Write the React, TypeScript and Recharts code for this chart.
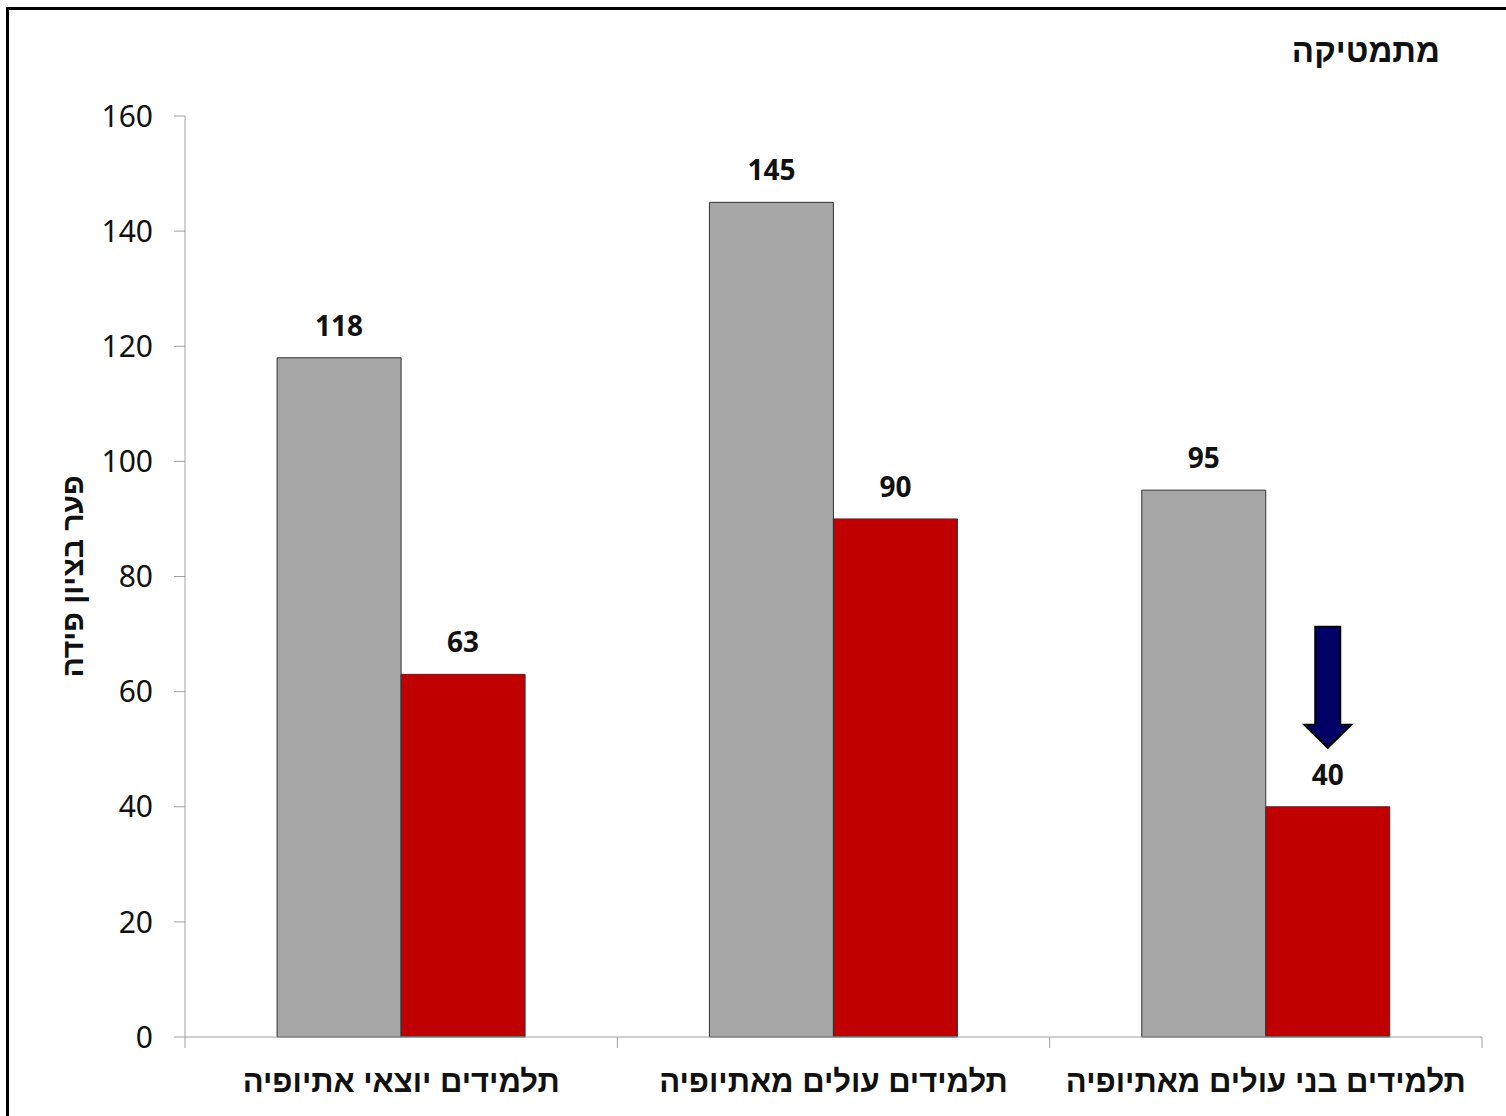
import React from "react";
import { BarChart, Bar, XAxis, YAxis, LabelList } from "recharts";

const categories = ["תלמידים יוצאי אתיופיה", "תלמידים עולים מאתיופיה", "תלמידים בני עולים מאתיופיה"];
const grayValues = [118, 145, 95];
const redValues = [63, 90, 40];
const arrowOn = [false, false, true];
const yTicks = [0, 20, 40, 60, 80, 100, 120, 140, 160];

const title = "מתמטיקה";
const yTitle = "פער בציון פידה";

const data = categories.map((name, i) => ({
  name,
  gray: grayValues[i],
  red: redValues[i],
}));

const W = 1506;
const H = 1116;
const margin = { top: 116, right: 24, bottom: 0, left: 0 };
const yAxisWidth = 185;
const halfBand = (W - margin.right - margin.left - yAxisWidth) / categories.length / 2;

const numFont = "'Noto Sans', 'Open Sans', sans-serif";
const hebFont = "'Liberation Sans', 'DejaVu Sans', sans-serif";
const axisColor = "#a0a0a0";

// category label plus the boundary tick marks between groups
function CategoryTick(props: any) {
  const { x, y, payload, index } = props;
  return (
    <g>
      <line x1={x - halfBand} x2={x - halfBand} y1={y} y2={y + 11} stroke={axisColor} />
      {index === categories.length - 1 && (
        <line x1={x + halfBand} x2={x + halfBand} y1={y} y2={y + 11} stroke={axisColor} />
      )}
      <text x={x} y={y + 55} textAnchor="middle" fontFamily={hebFont} fontWeight="bold" fontSize={31} fill="#111">
        {payload.value}
      </text>
    </g>
  );
}

function YTitle(props: any) {
  const vb = props.viewBox;
  const cx = vb.x + 72;
  const cy = vb.y + vb.height / 2;
  return (
    <text
      x={cx}
      y={cy}
      transform={`rotate(-90, ${cx}, ${cy})`}
      textAnchor="middle"
      dominantBaseline="central"
      fontFamily={hebFont}
      fontWeight="bold"
      fontSize={30}
      fill="#111"
    >
      {yTitle}
    </text>
  );
}

function ArrowMark(props: any) {
  const { x, y, width, index } = props;
  if (!arrowOn[index]) return null;
  const cx = x + width / 2;
  const tip = y - 59;
  const headTop = tip - 23;
  const top = y - 180;
  const shaft = 12.5;
  const head = 23.5;
  const d = `M${cx - shaft},${top} L${cx + shaft},${top} L${cx + shaft},${headTop} L${cx + head},${headTop} L${cx},${tip} L${cx - head},${headTop} L${cx - shaft},${headTop} Z`;
  return <path d={d} fill="#000066" stroke="#000" strokeWidth={2} />;
}

export default function App() {
  return (
    <div style={{ position: "absolute", left: 0, top: 0, width: W, height: H, background: "#fff" }}>
      <div
        style={{
          position: "absolute",
          left: 6,
          top: 7,
          width: 1600,
          height: 1200,
          borderLeft: "3px solid #000",
          borderTop: "3px solid #000",
        }}
      />
      <div
        style={{
          position: "absolute",
          right: 66,
          top: 32,
          fontFamily: hebFont,
          fontWeight: "bold",
          fontSize: 33,
          color: "#111",
          direction: "rtl",
        }}
      >
        {title}
      </div>
      <div style={{ position: "absolute", left: 0, top: 0 }}>
        <BarChart width={W} height={H} data={data} margin={margin} barCategoryGap="21.3%" barGap={0}>
          <XAxis
            dataKey="name"
            axisLine={{ stroke: axisColor }}
            tickLine={false}
            tickSize={0}
            tickMargin={0}
            tick={<CategoryTick />}
            height={79}
            interval={0}
          />
          <YAxis
            domain={[0, 160]}
            ticks={yTicks}
            width={yAxisWidth}
            tickSize={11}
            tickMargin={21}
            stroke={axisColor}
            tick={{ fill: "#111", fontSize: 30, fontFamily: numFont }}
            label={<YTitle />}
          />
          <Bar dataKey="gray" fill="#a6a6a6" stroke="#333" strokeWidth={1} isAnimationActive={false}>
            <LabelList
              dataKey="gray"
              position="top"
              offset={22}
              fill="#111"
              fontSize={28}
              fontWeight="bold"
              fontFamily={numFont}
            />
          </Bar>
          <Bar dataKey="red" fill="#c00000" stroke="#333" strokeWidth={1} isAnimationActive={false}>
            <LabelList
              dataKey="red"
              position="top"
              offset={22}
              fill="#111"
              fontSize={28}
              fontWeight="bold"
              fontFamily={numFont}
            />
            <LabelList dataKey="red" content={<ArrowMark />} />
          </Bar>
        </BarChart>
      </div>
    </div>
  );
}
